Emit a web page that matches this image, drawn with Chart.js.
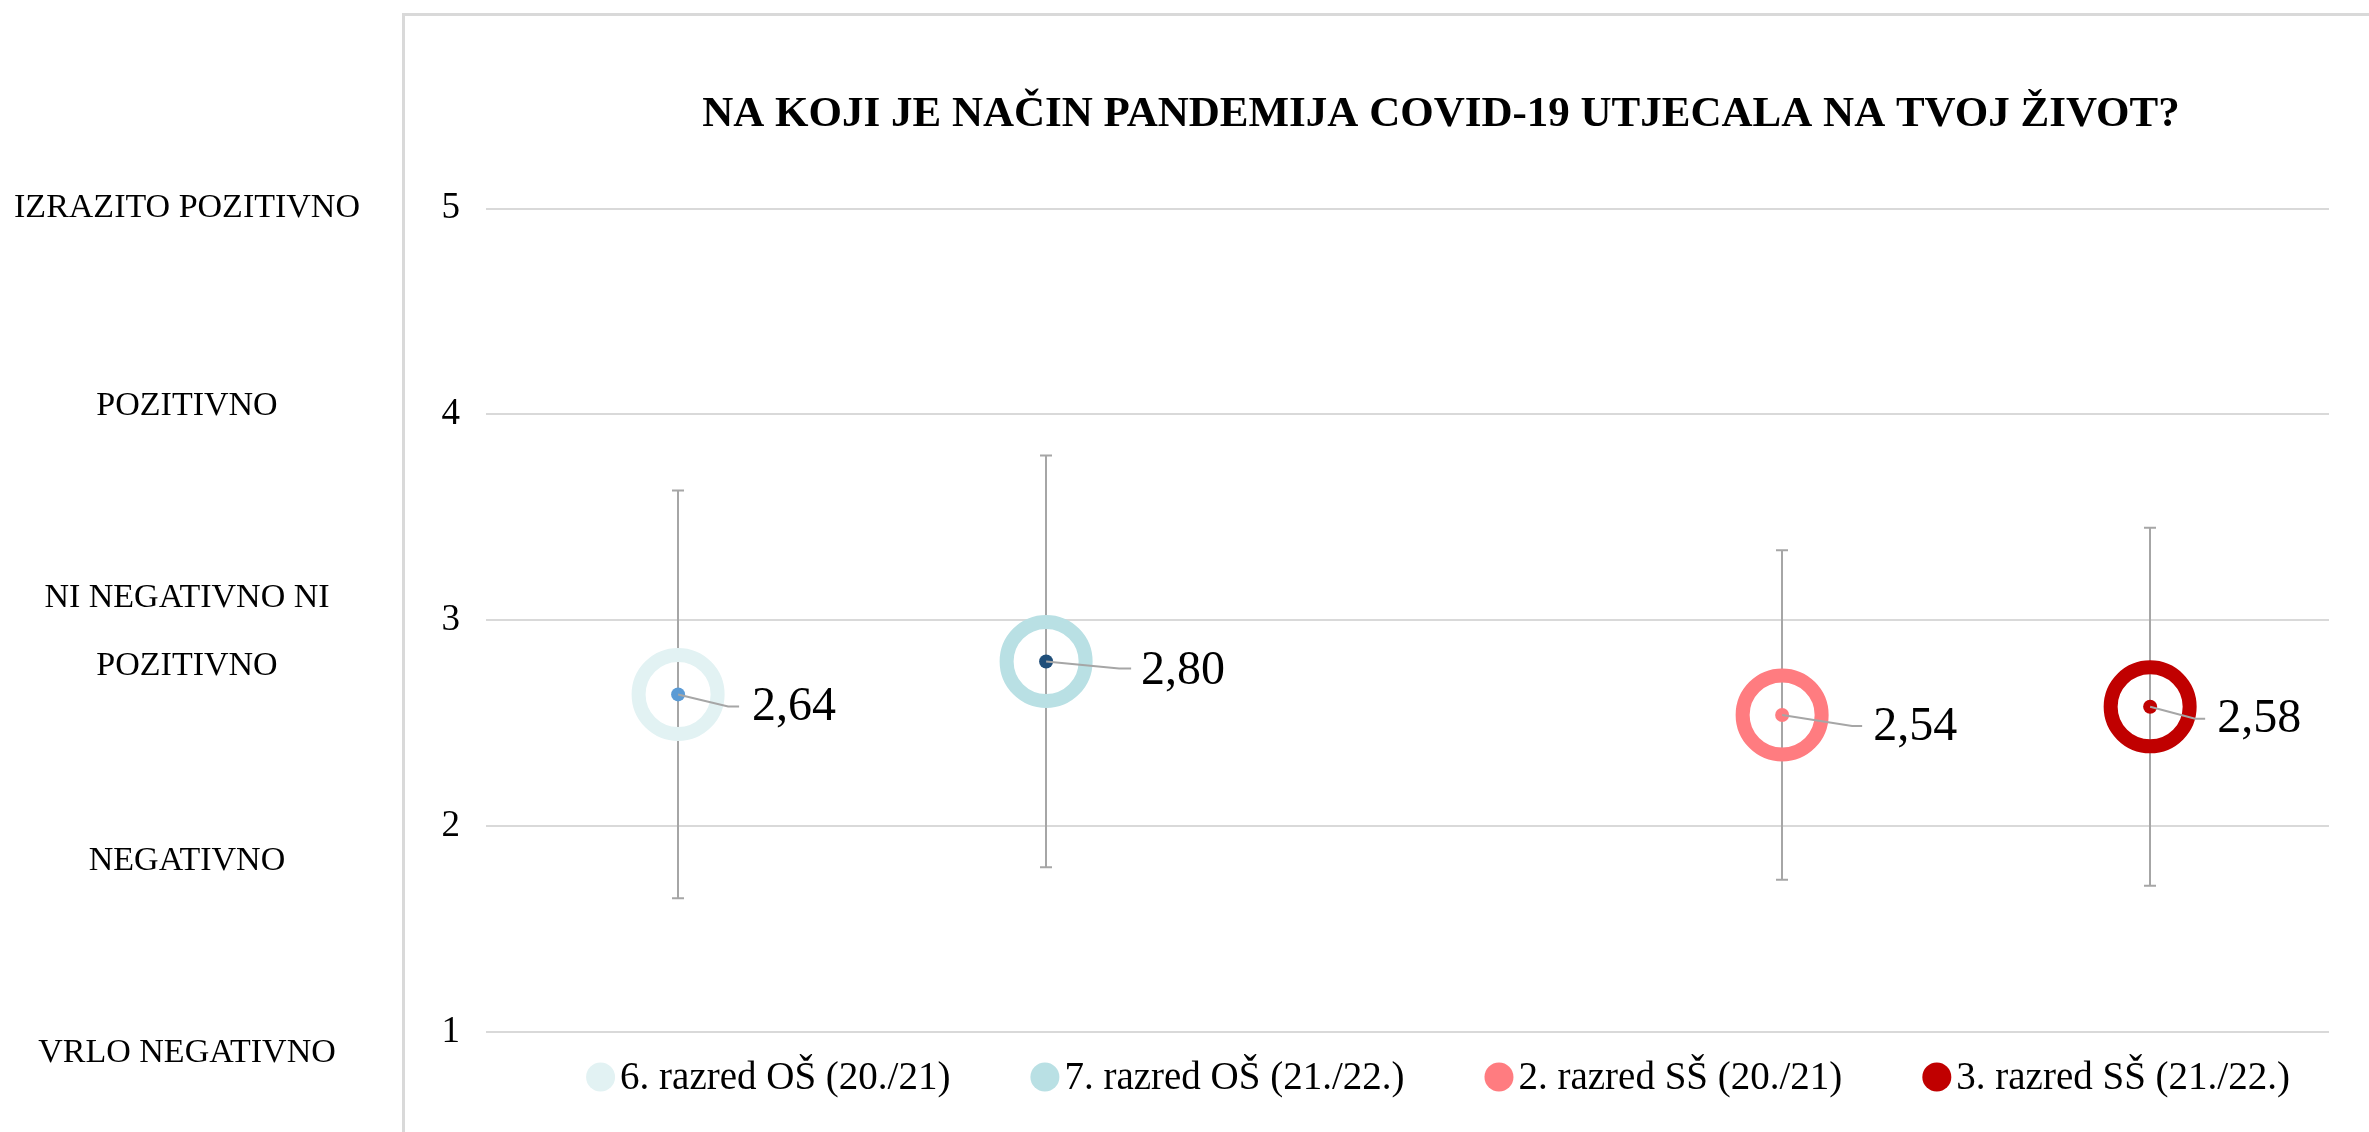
<!DOCTYPE html>
<html lang="hr">

<head>
    <meta charset="UTF-8">
    <title>COVID-19 utjecaj</title>
    <style>
        html, body {
            margin: 0;
            padding: 0;
            background: #fff;
            overflow: hidden;
        }

        #chart {
            display: block;
        }
    </style>
</head>

<body>
    <canvas id="chart" width="2479" height="1132"></canvas>

    <script src="https://cdn.jsdelivr.net/npm/chart.js"></script>
    <script>
        // podaci
        const groups = ['6. razred OŠ (20./21)', '7. razred OŠ (21./22.)', '2. razred SŠ (20./21)', '3. razred SŠ (21./22.)'];
        const xPositions = [1, 2, 4, 5];
        const means = [2.64, 2.80, 2.54, 2.58];
        const stdDevs = [0.99, 1.00, 0.80, 0.87];
        const yTicks = [1, 2, 3, 4, 5];
        const ratingLabels = ['IZRAZITO POZITIVNO', 'POZITIVNO', ['NI NEGATIVNO NI', 'POZITIVNO'], 'NEGATIVNO', 'VRLO NEGATIVNO'];

        // boje
        const ringColors = ['#E2F2F3', '#B9E0E4', '#FF7C80', '#C00000'];
        const dotColors = ['#5B9BD5', '#1F4E79', '#FF7C80', '#C00000'];
        const grey = '#A6A6A6';
        const serif = '"Liberation Serif", "DejaVu Serif", serif';

        // pomak oznake vrijednosti od točke (dx, dy) i lom linije
        const labelOffsets = [[74, 13], [95, 10], [91, 12], [67, 13]];
        const leaderBends = [[50, 12], [73, 7], [70, 11], [45, 12]];
        const leaderEnds = [61, 85, 80, 55];

        // položaj opisnih oznaka lijevo
        const ratingY = [208, 406, [598, 666], 861, 1053];

        const datasets = [];
        groups.forEach((g, i) => {
            datasets.push({
                label: g,
                data: [{ x: xPositions[i], y: means[i] }],
                pointRadius: 39.5,
                pointHoverRadius: 39.5,
                pointBorderWidth: 14,
                pointHoverBorderWidth: 14,
                pointBorderColor: ringColors[i],
                pointBackgroundColor: 'rgba(0,0,0,0)',
                borderColor: ringColors[i],
                backgroundColor: 'rgba(0,0,0,0)',
                showLine: false,
                order: 2
            });
        });
        groups.forEach((g, i) => {
            datasets.push({
                label: 'dot-' + i,
                data: [{ x: xPositions[i], y: means[i] }],
                pointRadius: 7,
                pointHoverRadius: 7,
                pointBorderWidth: 0,
                backgroundColor: dotColors[i],
                borderColor: dotColors[i],
                showLine: false,
                order: 1
            });
        });

        // okvir grafikona i oznake skale lijevo
        const framePlugin = {
            id: 'frame',
            afterDraw(chart) {
                const ctx = chart.ctx;
                ctx.save();
                ctx.strokeStyle = '#D9D9D9';
                ctx.lineWidth = 3;
                ctx.beginPath();
                ctx.moveTo(403.5, chart.height);
                ctx.lineTo(403.5, 14.5);
                ctx.lineTo(chart.width, 14.5);
                ctx.stroke();

                ctx.fillStyle = '#000';
                ctx.font = '34px ' + serif;
                ctx.textAlign = 'center';
                ctx.textBaseline = 'middle';
                ratingLabels.forEach((lab, i) => {
                    if (Array.isArray(lab)) {
                        lab.forEach((l, j) => ctx.fillText(l, 187, ratingY[i][j]));
                    } else {
                        ctx.fillText(lab, 187, ratingY[i]);
                    }
                });
                ctx.restore();
            }
        };

        // legenda ispod grafikona
        const legendPlugin = {
            id: 'customLegend',
            afterDraw(chart) {
                const ctx = chart.ctx;
                const r = 14.5, gap = 5, spacing = 80, cy = 1077, cx = 1438;
                ctx.save();
                ctx.font = '39px ' + serif;
                ctx.textBaseline = 'middle';
                ctx.textAlign = 'left';
                const widths = groups.map(g => 2 * r + gap + ctx.measureText(g).width);
                const total = widths.reduce((a, b) => a + b, 0) + spacing * (groups.length - 1);
                let x = cx - total / 2;
                groups.forEach((g, i) => {
                    ctx.fillStyle = ringColors[i];
                    ctx.beginPath();
                    ctx.arc(x + r, cy, r, 0, Math.PI * 2);
                    ctx.fill();
                    ctx.fillStyle = '#000';
                    ctx.fillText(g, x + 2 * r + gap, cy + 2);
                    x += widths[i] + spacing;
                });
                ctx.restore();
            }
        };

        // stupci pogreške (standardna devijacija)
        const errorBarPlugin = {
            id: 'errorBars',
            beforeDatasetsDraw(chart) {
                const ctx = chart.ctx;
                const xs = chart.scales.x;
                const ys = chart.scales.y;
                ctx.save();
                ctx.strokeStyle = grey;
                ctx.lineWidth = 2;
                means.forEach((m, i) => {
                    const x = Math.round(xs.getPixelForValue(xPositions[i]));
                    const yTop = ys.getPixelForValue(m + stdDevs[i]);
                    const yBot = ys.getPixelForValue(m - stdDevs[i]);
                    ctx.beginPath();
                    ctx.moveTo(x, yTop);
                    ctx.lineTo(x, yBot);
                    ctx.moveTo(x - 6, yTop);
                    ctx.lineTo(x + 6, yTop);
                    ctx.moveTo(x - 6, yBot);
                    ctx.lineTo(x + 6, yBot);
                    ctx.stroke();
                });
                ctx.restore();
            }
        };

        // oznake vrijednosti s linijom
        const valueLabelPlugin = {
            id: 'valueLabels',
            afterDatasetsDraw(chart) {
                const ctx = chart.ctx;
                const xs = chart.scales.x;
                const ys = chart.scales.y;
                ctx.save();
                means.forEach((m, i) => {
                    const x = xs.getPixelForValue(xPositions[i]);
                    const y = ys.getPixelForValue(m);
                    ctx.strokeStyle = grey;
                    ctx.lineWidth = 2;
                    ctx.beginPath();
                    ctx.moveTo(x, y);
                    ctx.lineTo(x + leaderBends[i][0], y + leaderBends[i][1]);
                    ctx.lineTo(x + leaderEnds[i], y + leaderBends[i][1]);
                    ctx.stroke();

                    ctx.fillStyle = '#000';
                    ctx.font = '48px ' + serif;
                    ctx.textAlign = 'left';
                    ctx.textBaseline = 'middle';
                    ctx.fillText(m.toFixed(2).replace('.', ','), x + labelOffsets[i][0], y + labelOffsets[i][1]);
                });
                ctx.restore();
            }
        };

        const ctx = document.getElementById('chart').getContext('2d');

        const myChart = new Chart(ctx, {
            type: 'scatter',
            data: { datasets: datasets },
            options: {
                responsive: false,
                animation: false,
                events: [],
                layout: {
                    padding: { left: 403, right: 0, top: 0, bottom: 100 }
                },
                scales: {
                    x: {
                        type: 'linear',
                        min: 0.478,
                        max: 5.486,
                        display: false
                    },
                    y: {
                        min: 1,
                        max: 5,
                        afterBuildTicks: (scale) => {
                            scale.ticks = yTicks.map(v => ({ value: v }));
                        },
                        afterFit: (scale) => {
                            scale.width = 83;
                        },
                        border: { display: false },
                        grid: {
                            color: '#D9D9D9',
                            lineWidth: 2,
                            drawTicks: false
                        },
                        ticks: {
                            padding: 26,
                            color: '#000',
                            font: { family: serif, size: 37 }
                        }
                    },
                    yR: {
                        type: 'linear',
                        position: 'right',
                        display: true,
                        border: { display: false },
                        grid: { display: false },
                        ticks: { display: false },
                        afterFit: (scale) => {
                            scale.width = 150;
                        }
                    }
                },
                plugins: {
                    title: {
                        display: true,
                        text: 'NA KOJI JE NAČIN PANDEMIJA COVID-19 UTJECALA NA TVOJ ŽIVOT?',
                        color: '#000',
                        font: { family: serif, size: 43, weight: 'bold' },
                        padding: { top: 89, bottom: 68 }
                    },
                    legend: { display: false },
                    tooltip: { enabled: false }
                }
            },
            plugins: [framePlugin, errorBarPlugin, valueLabelPlugin, legendPlugin]
        });
    </script>
</body>

</html>
